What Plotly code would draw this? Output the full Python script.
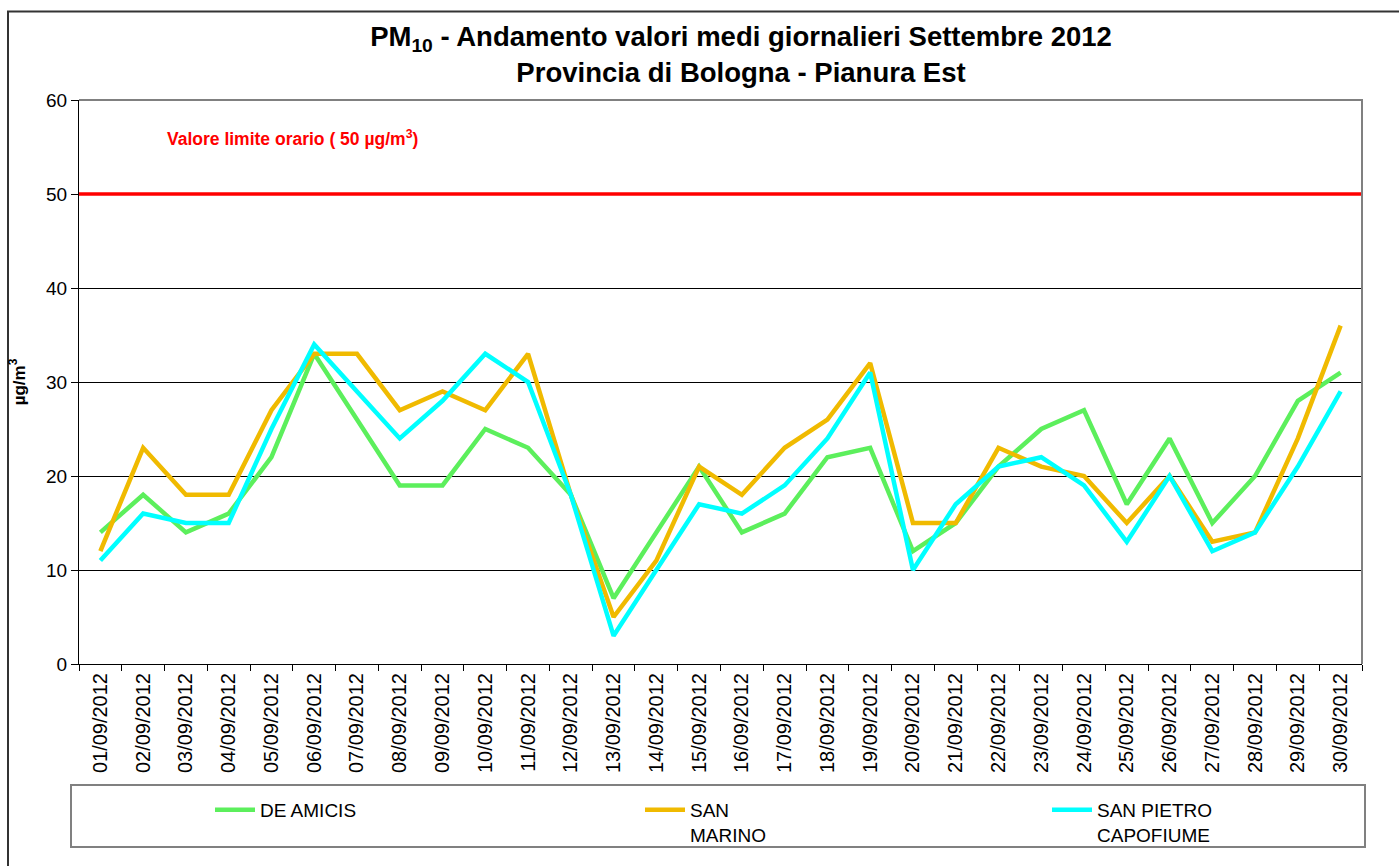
import plotly.graph_objects as go

days = [f"{d:02d}/09/2012" for d in range(1, 31)]

de_amicis = [14, 18, 14, 16, 22, 33, 26, 19, 19, 25, 23, 18, 7, 14, 21,
             14, 16, 22, 23, 12, 15, 21, 25, 27, 17, 24, 15, 20, 28, 31]
san_marino = [12, 23, 18, 18, 27, 33, 33, 27, 29, 27, 33, 18, 5, 11, 21,
              18, 23, 26, 32, 15, 15, 23, 21, 20, 15, 20, 13, 14, 24, 36]
san_pietro = [11, 16, 15, 15, 25, 34, 29, 24, 28, 33, 30, 18, 3, 10, 17,
              16, 19, 24, 31, 10, 17, 21, 22, 19, 13, 20, 12, 14, 21, 29]

limite = 50
y_ticks = [0, 10, 20, 30, 40, 50, 60]

FONT = "Liberation Sans, Arial, sans-serif"

# plot area in pixels: left 79, right 1362, top 100, bottom 673
L, R, T, B = 79, 1362, 100, 673
W, H = 1399, 866
pw, ph = R - L, B - T


def px(x):
    return (x - L) / pw


def py(y):
    return (B - y) / ph


series = [
    ("DE AMICIS", de_amicis, "#5CEF5C", "legend", 215),
    ("SAN<br>MARINO", san_marino, "#F0BA00", "legend2", 645),
    ("SAN PIETRO<br>CAPOFIUME", san_pietro, "#00FFFF", "legend3", 1052),
]

fig = go.Figure()
for name, vals, col, leg, _ in series:
    fig.add_trace(go.Scatter(x=days, y=vals, name=name, mode="lines",
                             line=dict(color=col, width=4.5), legend=leg))

legends = {}
for i, (name, vals, col, leg, xpos) in enumerate(series):
    legends[leg] = dict(x=px(xpos - 5), y=py(802), xanchor="left", yanchor="top",
                        orientation="h", bgcolor="rgba(0,0,0,0)", borderwidth=0,
                        valign="top", itemwidth=40,
                        font=dict(family=FONT, size=19, color="black"))

fig.update_layout(
    width=W, height=H,
    margin=dict(l=L, r=W - R, t=T, b=H - B),
    paper_bgcolor="white", plot_bgcolor="white",
    title=dict(text="PM<sub>10</sub> - Andamento valori medi giornalieri Settembre 2012<br>Provincia di Bologna - Pianura Est",
               x=741 / W, xanchor="center", y=1 - 46 / H, yanchor="middle",
               font=dict(family=FONT, size=27.5, color="black", weight="bold")),
    font=dict(family=FONT, color="black"),
    xaxis=dict(type="category", range=[-0.5, 29.5], showgrid=False, tickangle=-90,
               tickson="boundaries", ticks="outside", ticklen=6, tickcolor="black",
               showline=True, linecolor="black", linewidth=1,
               tickfont=dict(size=20, family=FONT)),
    yaxis=dict(range=[0, 60], tickvals=y_ticks, showgrid=True, gridcolor="black",
               gridwidth=1, ticks="outside", ticklen=7, tickcolor="black",
               showline=True, linecolor="black", linewidth=1, zeroline=False,
               tickfont=dict(size=19, family=FONT),
               title=dict(text="µg/m<sup>3</sup>", standoff=16,
                          font=dict(size=17, family=FONT, weight="bold"))),
    showlegend=True,
    **legends,
)

# limit line
fig.add_shape(type="line", xref="paper", yref="y", x0=0, x1=1, y0=limite, y1=limite,
              line=dict(color="red", width=3.5))
fig.add_annotation(xref="paper", yref="y", x=px(165), y=56, xanchor="left", yanchor="middle",
                   text=f"Valore limite orario ( {limite} µg/m<sup>3</sup>)", showarrow=False,
                   font=dict(family=FONT, size=17.5, color="red", weight="bold"))

# plot area border (top/right)
fig.add_shape(type="path", xref="paper", yref="paper", path="M 0,1 L 1,1 L 1,0",
              line=dict(color="#808080", width=2))
# legend box
fig.add_shape(type="rect", xref="paper", yref="paper", x0=px(71), x1=px(1365),
              y0=py(859), y1=py(796), line=dict(color="#808080", width=2), layer="below")
# outer chart frame
fig.add_shape(type="rect", xref="paper", yref="paper", x0=px(8), x1=px(1420),
              y0=py(900), y1=py(10), line=dict(color="#333333", width=2), layer="below")

fig.write_html("out.html", config={"displayModeBar": False},
               post_script="document.body.style.margin='0';")
